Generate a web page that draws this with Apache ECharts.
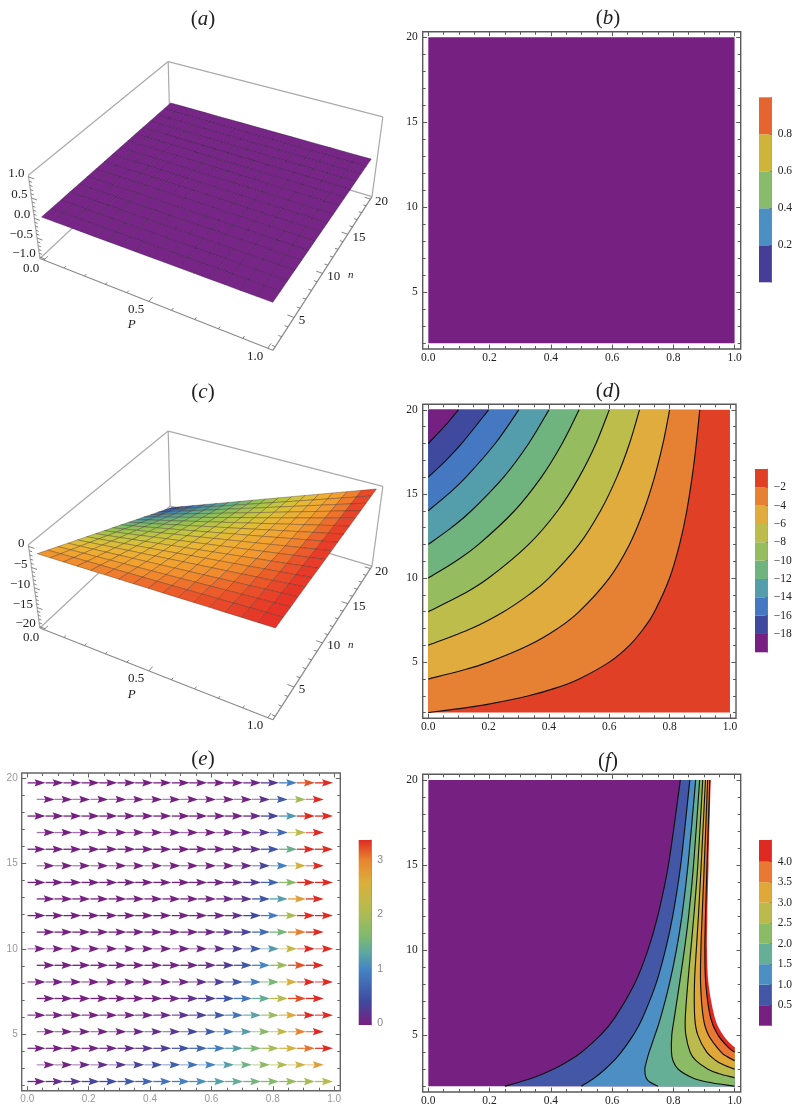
<!DOCTYPE html>
<html><head><meta charset="utf-8">
<style>html,body{margin:0;padding:0;background:#fff}#c{width:796px;height:1107px}</style>
<script src="https://cdn.jsdelivr.net/npm/echarts@6/dist/echarts.min.js"></script>
</head><body><div id="c"></div>
<script>
// ---------- tick values ----------
const xMajor=[0,0.2,0.4,0.6,0.8,1];
const xMinor=[0.05,0.1,0.15,0.25,0.3,0.35,0.45,0.5,0.55,0.65,0.7,0.75,0.85,0.9,0.95];
const yMajor=[5,10,15,20];
const yMinor=[2,3,4,6,7,8,9,11,12,13,14,16,17,18,19];

// ---------- panel (d): contour lines [P, n] ----------
const dLine2=[[0,2],[0.111,2.25],[0.2,2.5],[0.333,3],[0.429,3.5],[0.5,4],[0.6,5],[0.667,6],[0.714,7],[0.75,8],[0.8,10],[0.833,12],[0.857,14],[0.882,17],[0.9,20]];
const dLine4=[[0,4],[0.111,4.5],[0.2,5],[0.333,6],[0.429,7],[0.5,8],[0.6,10],[0.667,12],[0.714,14],[0.75,16],[0.778,18],[0.8,20]];
const dLine6=[[0,6],[0.143,7],[0.25,8],[0.333,9],[0.4,10],[0.5,12],[0.571,14],[0.625,16],[0.667,18],[0.7,20]];
const dLine8=[[0,8],[0.111,9],[0.2,10],[0.333,12],[0.429,14],[0.5,16],[0.556,18],[0.6,20]];
const dLine10=[[0,10],[0.091,11],[0.167,12],[0.286,14],[0.375,16],[0.444,18],[0.5,20]];
const dLine12=[[0,12],[0.077,13],[0.143,14],[0.25,16],[0.333,18],[0.4,20]];
const dLine14=[[0,14],[0.067,15],[0.125,16],[0.222,18],[0.3,20]];
const dLine16=[[0,16],[0.059,17],[0.111,18],[0.2,20]];
const dLine18=[[0,18],[0.053,19],[0.1,20]];
const dBandColors=['#E04026','#E68033','#DFAC3D','#BDBD4C','#96BC60','#6FB37F','#549DAA','#4478C0','#3F4A9F','#762181'];
const dBarEdges=[0,-2,-4,-6,-8,-10,-12,-14,-16,-18,-20];
// ---------- panel (f): contour lines [P, n] ----------
const fLine05=[[0.25,2],[0.342,2.5],[0.408,3],[0.459,3.5],[0.5,4],[0.562,5],[0.608,6],[0.673,8],[0.717,10],[0.749,12],[0.784,15],[0.823,20]];
const fLine10=[[0.5,2],[0.543,2.5],[0.577,3],[0.606,3.5],[0.63,4],[0.669,5],[0.699,6],[0.743,8],[0.774,10],[0.798,12],[0.824,15],[0.854,20]];
const fLine15=[[0.75,2],[0.723,2.25],[0.711,2.5],[0.707,3],[0.713,3.5],[0.721,4],[0.74,5],[0.758,6],[0.787,8],[0.81,10],[0.828,12],[0.848,15],[0.873,20]];
const fLine20=[[1,2],[0.91,2.25],[0.862,2.5],[0.816,3],[0.799,3.5],[0.794,4],[0.795,5],[0.803,6],[0.82,8],[0.836,10],[0.85,12],[0.866,15],[0.886,20]];
const fLine25=[[1,2.5],[0.947,2.75],[0.913,3],[0.874,3.5],[0.855,4],[0.841,5],[0.839,6],[0.847,8],[0.857,10],[0.867,12],[0.88,15],[0.896,20]];
const fLine30=[[1,3],[0.965,3.25],[0.94,3.5],[0.909,4],[0.88,5],[0.87,6],[0.869,8],[0.875,10],[0.882,12],[0.891,15],[0.905,20]];
const fLine35=[[1,3.5],[0.975,3.75],[0.956,4],[0.915,5],[0.898,6],[0.889,8],[0.89,10],[0.894,12],[0.901,15],[0.912,20]];
const fLine40=[[1,4],[0.981,4.25],[0.946,5],[0.922,6],[0.906,8],[0.903,10],[0.905,12],[0.91,15],[0.919,20]];
const fEdge=[[1,4.3],[0.987,4.5],[0.963,5],[0.936,6],[0.915,8],[0.91,10],[0.911,12],[0.915,15],[0.922,20]];
const fBandColors=['#762181','#4357A6','#4B8FC4','#66AF97','#8CBB66','#BBBB4D','#DFA838','#E97832','#DF2A22'];
const fBarEdges=[0,0.5,1,1.5,2,2.5,3,3.5,4,4.53];
// ---------- panel (b) ----------
const bBandColors=['#463E96','#4B8FC3','#88BB6B','#CFB43A','#E5642F'];
const bBarEdges=[0,0.2,0.4,0.6,0.8,1];
const bFill='#762181';
// ---------- panel (e): arrow magnitudes, top row first ----------
const eRowN=[19.75,18.78,17.8,16.83,15.85,14.88,13.9,12.93,11.95,10.98,10,9.03,8.05,7.08,6.1,5.13,4.15,3.18,2.2];
const ePFull=[0.03,0.089,0.147,0.206,0.264,0.323,0.381,0.44,0.5,0.557,0.616,0.674,0.733,0.791,0.85,0.908,0.967];
const ePShort=[0.06,0.118,0.176,0.235,0.294,0.352,0.411,0.47,0.528,0.586,0.645,0.703,0.762,0.82,0.879,0.937];
const eMag=[
[0,0,0,0,0,0,0,0,0,0,0,0.01,0.06,0.24,0.94,3.2,3.4],
[0,0,0,0,0,0,0,0,0,0,0.01,0.04,0.15,0.56,1.9,3.4],
[0,0,0,0,0,0,0,0,0,0,0.01,0.02,0.1,0.35,1.16,3.4,3.4],
[0,0,0,0,0,0,0,0,0,0,0.02,0.06,0.23,0.74,2.2,3.4],
[0,0,0,0,0,0,0,0,0,0,0.01,0.05,0.16,0.49,1.42,3.4,3.4],
[0,0,0,0,0,0,0,0,0,0.01,0.03,0.11,0.34,0.95,2.5,3.4],
[0,0,0,0,0,0,0,0,0,0.01,0.03,0.09,0.25,0.68,1.7,3.4,3.4],
[0,0,0,0,0,0,0,0,0.01,0.02,0.07,0.19,0.5,1.22,2.77,3.4],
[0,0,0,0,0,0,0,0,0.01,0.02,0.06,0.16,0.4,0.92,2,3.4,3.4],
[0,0,0,0,0,0,0,0.01,0.02,0.05,0.14,0.33,0.73,1.52,3.03,3.4],
[0,0,0,0,0,0,0,0.01,0.02,0.05,0.13,0.29,0.61,1.2,2.3,3.4,3.4],
[0,0,0,0,0,0,0.01,0.02,0.05,0.12,0.27,0.53,1.02,1.84,3.2,3.4],
[0,0,0,0,0,0,0.01,0.03,0.06,0.13,0.26,0.5,0.9,1.55,2.56,3.4,3.4],
[0,0,0,0,0,0.01,0.03,0.07,0.15,0.27,0.5,0.83,1.36,2.13,3.23,3.4],
[0,0,0,0,0.01,0.02,0.05,0.09,0.18,0.31,0.52,0.82,1.25,1.85,2.66,3.4,3.4],
[0,0,0,0.01,0.03,0.07,0.13,0.23,0.37,0.57,0.84,1.2,1.67,2.26,3.01,3.4],
[0,0,0.01,0.03,0.06,0.12,0.2,0.31,0.47,0.66,0.9,1.2,1.56,1.99,2.49,3.06,3.4],
[0.01,0.03,0.07,0.14,0.22,0.33,0.46,0.61,0.79,0.99,1.22,1.48,1.76,2.06,2.4,2.76],
[0.03,0.12,0.22,0.33,0.44,0.57,0.69,0.82,0.96,1.09,1.23,1.37,1.52,1.66,1.81,1.96,2.11]
];
const eShaftOpacity=[1,0.6,1,0.65,1,0.6,1,1,1,1,0.5,1,0.7,1,0.8,0.6,0.9,0.5,1];
const eMagStops=[[0,'#762181'],[0.4,'#3F4A9F'],[1,'#4584C5'],[1.3,'#5CA8A0'],[1.6,'#7FBA6F'],[2.1,'#B5BB4E'],[2.6,'#DBAF3C'],[3,'#E8842F'],[3.37,'#DF2A22']];
// ---------- panels (a) and (c): surface heights at the mesh nodes ----------
const surfP=[0,0.0625,0.125,0.1875,0.25,0.3125,0.375,0.4375,0.5,0.5625,0.625,0.6875,0.75,0.8125,0.875,0.9375,1];
const surfN=[2,3.125,4.25,5.375,6.5,7.625,8.75,9.875,11,12.125,13.25,14.375,15.5,16.625,17.75,18.875,20];
const aZeroRow=[0,0,0,0,0,0,0,0,0,0,0,0,0,0,0,0,0];
const aZ=surfN.map(()=>aZeroRow);
const cZ=[
[-2,-1.88,-1.75,-1.63,-1.5,-1.38,-1.25,-1.13,-1,-.88,-.75,-.63,-.5,-.38,-.25,-.13,0],
[-3.13,-2.93,-2.73,-2.54,-2.34,-2.15,-1.95,-1.76,-1.56,-1.37,-1.17,-.98,-.78,-.59,-.39,-.2,0],
[-4.25,-3.98,-3.72,-3.45,-3.19,-2.92,-2.66,-2.39,-2.13,-1.86,-1.59,-1.33,-1.06,-.8,-.53,-.27,0],
[-5.38,-5.04,-4.7,-4.37,-4.03,-3.7,-3.36,-3.02,-2.69,-2.35,-2.02,-1.68,-1.34,-1.01,-.67,-.34,0],
[-6.5,-6.09,-5.69,-5.28,-4.88,-4.47,-4.06,-3.66,-3.25,-2.84,-2.44,-2.03,-1.63,-1.22,-.81,-.41,0],
[-7.63,-7.15,-6.67,-6.2,-5.72,-5.24,-4.77,-4.29,-3.81,-3.34,-2.86,-2.38,-1.91,-1.43,-.95,-.48,0],
[-8.75,-8.2,-7.66,-7.11,-6.56,-6.02,-5.47,-4.92,-4.38,-3.83,-3.28,-2.73,-2.19,-1.64,-1.09,-.55,0],
[-9.88,-9.26,-8.64,-8.02,-7.41,-6.79,-6.17,-5.55,-4.94,-4.32,-3.7,-3.09,-2.47,-1.85,-1.23,-.62,0],
[-11,-10.31,-9.63,-8.94,-8.25,-7.56,-6.88,-6.19,-5.5,-4.81,-4.13,-3.44,-2.75,-2.06,-1.38,-.69,0],
[-12.13,-11.37,-10.61,-9.85,-9.09,-8.34,-7.58,-6.82,-6.06,-5.3,-4.55,-3.79,-3.03,-2.27,-1.52,-.76,0],
[-13.25,-12.42,-11.59,-10.77,-9.94,-9.11,-8.28,-7.45,-6.63,-5.8,-4.97,-4.14,-3.31,-2.48,-1.66,-.83,0],
[-14.38,-13.48,-12.58,-11.68,-10.78,-9.88,-8.98,-8.09,-7.19,-6.29,-5.39,-4.49,-3.59,-2.7,-1.8,-.9,0],
[-15.5,-14.53,-13.56,-12.59,-11.63,-10.66,-9.69,-8.72,-7.75,-6.78,-5.81,-4.84,-3.88,-2.91,-1.94,-.97,0],
[-16.63,-15.59,-14.55,-13.51,-12.47,-11.43,-10.39,-9.35,-8.31,-7.27,-6.23,-5.2,-4.16,-3.12,-2.08,-1.04,0],
[-17.75,-16.64,-15.53,-14.42,-13.31,-12.2,-11.09,-9.98,-8.88,-7.77,-6.66,-5.55,-4.44,-3.33,-2.22,-1.11,0],
[-18.88,-17.7,-16.52,-15.34,-14.16,-12.98,-11.8,-10.62,-9.44,-8.26,-7.08,-5.9,-4.72,-3.54,-2.36,-1.18,0],
[-20,-18.75,-17.5,-16.25,-15,-13.75,-12.5,-11.25,-10,-8.75,-7.5,-6.25,-5,-3.75,-2.5,-1.25,0]
];
const cZStops=[[-20,'#2F2F80'],[-19,'#34479A'],[-17,'#3A70AC'],[-15,'#4493A6'],[-13,'#5DAC88'],[-11,'#86BE5E'],[-9,'#A8C44A'],[-7,'#CCC63C'],[-5,'#E9B735'],[-3,'#F3A02F'],[-2,'#F08A2E'],[-1,'#EC5A2A'],[0,'#E62E28']];
const aZStops=[[-1,'#772688'],[1,'#772688']];
const pTicks3d=[0,0.1,0.2,0.3,0.4,0.5,0.6,0.7,0.8,0.9,1];
const pLabels3d=[0,0.5,1];
const nTicks3d=[2,3,4,5,6,7,8,9,10,11,12,13,14,15,16,17,18,19,20];
const nLabels3d=[5,10,15,20];
const aZTicks=[-1,-0.9,-0.8,-0.7,-0.6,-0.5,-0.4,-0.3,-0.2,-0.1,0,0.1,0.2,0.3,0.4,0.5,0.6,0.7,0.8,0.9,1];
const aZLabels=[-1,-0.5,0,0.5,1];
const cZTicks=[-20,-19,-18,-17,-16,-15,-14,-13,-12,-11,-10,-9,-8,-7,-6,-5,-4,-3,-2,-1,0];
const cZLabels=[-20,-15,-10,-5,0];

// ---------- helpers ----------
const SERIF='"Liberation Serif", serif', SANS='"Liberation Sans", sans-serif';
const grid=[],xAxis=[],yAxis=[],series=[],title=[];
const hex=h=>[parseInt(h.slice(1,3),16),parseInt(h.slice(3,5),16),parseInt(h.slice(5,7),16)];
function ramp(stops,v){
  if(v<=stops[0][0])return stops[0][1];
  for(let i=1;i<stops.length;i++){ if(v<=stops[i][0]){
    const t=(v-stops[i-1][0])/(stops[i][0]-stops[i-1][0]),a=hex(stops[i-1][1]),b=hex(stops[i][1]);
    return 'rgb('+a.map((c,k)=>Math.round(c+(b[k]-c)*t)).join(',')+')';}}
  return stops[stops.length-1][1];
}
function addAxes(kind,pos,ticks,len,color,labelOpt,minv,maxv){
  const arr=kind==='x'?xAxis:yAxis;
  arr.push({type:'value',gridIndex:grid.length-1,position:pos,min:minv,max:maxv,splitLine:{show:false},
    axisLine:{show:false,onZero:false},
    axisTick:{show:true,inside:true,length:len,customValues:ticks,lineStyle:{color:color,width:1}},
    axisLabel:labelOpt||{show:false}});
  return arr.length-1;
}
function panel2d(rect,o){
  grid.push({left:rect[0],top:rect[1],width:rect[2]-rect[0],height:rect[3]-rect[1],show:true,borderColor:o.frame,borderWidth:1.4,backgroundColor:'transparent'});
  const xl={show:true,customValues:xMajor,margin:o.xm,fontFamily:o.font,fontSize:o.size,color:o.text,formatter:v=>v.toFixed(1)};
  const yl={show:true,customValues:yMajor,margin:o.ym,fontFamily:o.font,fontSize:o.size,color:o.text};
  const X0=-0.0183,X1=1.02,Y0=1.66,Y1=20.33;
  const xi=addAxes('x','bottom',xMajor,4.5,o.frame,xl,X0,X1);
  addAxes('x','top',xMajor,4.5,o.frame,null,X0,X1);
  addAxes('x','bottom',xMinor,3,o.frame,null,X0,X1);
  addAxes('x','top',xMinor,3,o.frame,null,X0,X1);
  const yi=addAxes('y','left',yMajor,4.5,o.frame,yl,Y0,Y1);
  addAxes('y','right',yMajor,4.5,o.frame,null,Y0,Y1);
  addAxes('y','left',yMinor,3,o.frame,null,Y0,Y1);
  addAxes('y','right',yMinor,3,o.frame,null,Y0,Y1);
  return {xAxisIndex:xi,yAxisIndex:yi};
}
function splineD(pts){
  let d='';
  for(let i=0;i<pts.length-1;i++){
    const p0=pts[Math.max(i-1,0)],p1=pts[i],p2=pts[i+1],p3=pts[Math.min(i+2,pts.length-1)];
    d+=' C'+(p1[0]+(p2[0]-p0[0])/6)+' '+(p1[1]+(p2[1]-p0[1])/6)+' '+(p2[0]-(p3[0]-p1[0])/6)+' '+(p2[1]-(p3[1]-p1[1])/6)+' '+p2[0]+' '+p2[1];
  }
  return d;
}
function regionSeries(ax,regions){
  series.push(Object.assign({type:'custom',coordinateSystem:'cartesian2d',silent:true,animation:false,clip:false,
    data:regions.map((r,i)=>[i,0]),
    renderItem(params,api){
      const r=regions[api.value(0)];
      const pts=r.curve.map(p=>api.coord(p));
      let d='M'+pts[0][0]+' '+pts[0][1]+splineD(pts);
      r.close.forEach(p=>{const c=api.coord(p);d+=' L'+c[0]+' '+c[1];});
      return {type:'path',shape:{pathData:d+' Z'},style:{fill:r.color,stroke:null}};
    }},ax));
}
function lineSeries(ax,lines){
  series.push(Object.assign({type:'custom',coordinateSystem:'cartesian2d',silent:true,animation:false,clip:false,
    data:lines.map((r,i)=>[i,0]),
    renderItem(params,api){
      const pts=lines[api.value(0)].map(p=>api.coord(p));
      return {type:'path',shape:{pathData:'M'+pts[0][0]+' '+pts[0][1]+splineD(pts)},style:{fill:'none',stroke:'#111',lineWidth:1.15}};
    }},ax));
}
function colorbar(rect,edges,colors,labels,o){
  grid.push({left:rect[0],top:rect[1],width:rect[2]-rect[0],height:rect[3]-rect[1],show:false});
  const lo=Math.min(edges[0],edges[edges.length-1]),hi=Math.max(edges[0],edges[edges.length-1]);
  xAxis.push({type:'value',gridIndex:grid.length-1,min:0,max:1,show:false});
  yAxis.push({type:'value',gridIndex:grid.length-1,position:'right',min:lo,max:hi,splitLine:{show:false},
    axisLine:{show:true,onZero:false,lineStyle:{color:'rgba(70,60,70,.55)',width:1}},
    axisTick:{show:true,inside:true,length:2.5,customValues:labels,lineStyle:{color:'#444',width:1}},
    axisLabel:{show:true,customValues:labels,margin:6,fontFamily:o.font,fontSize:o.size,color:o.text,formatter:o.fmt}});
  const xi=xAxis.length-1,yi=yAxis.length-1;
  series.push({type:'custom',coordinateSystem:'cartesian2d',xAxisIndex:xi,yAxisIndex:yi,silent:true,animation:false,
    data:colors.map((c,i)=>[edges[i],edges[i+1],i]),
    renderItem(params,api){
      const a=api.coord([0,api.value(0)]),b=api.coord([1,api.value(1)]),idx=api.value(2);
      return {type:'rect',shape:{x:a[0],y:Math.min(a[1],b[1]),width:b[0]-a[0],height:Math.abs(a[1]-b[1])},
        style:{fill:o.gradient||colors[idx]}};
    }});
}
// --- 3D camera: a projective map fitted to where the box and surface anchors land (3x page scale) ---
const camAnchors=[
 [0,0,0,122,778],[1,0,0,820,1050],[1,1,0,1115,592],
 [0,0,1,82,525],[1,1,1,1148,348],[0,1,1,507,187],
 [0.0192,0.0192,0.5,125,652],[0.9808,0.0192,0.5,818,908],[0.9808,0.9808,0.5,1115,478],[0.0192,0.9808,0.5,512,310],
 [0.0192,0.0192,0.885,112,551.5],[0.9808,0.0192,0.981,825,773.5],[0.9808,0.9808,0.981,1130,359.5],[0.0192,0.9808,0.019,512,409.5]
];
function fitCamera(A){
  const n=11,M=[...Array(n)].map(()=>Array(n+1).fill(0));
  const add=(r,b)=>{for(let i=0;i<n;i++){for(let j=0;j<n;j++)M[i][j]+=r[i]*r[j];M[i][n]+=r[i]*b;}};
  A.forEach(([u,v,w,x,y])=>{
    add([u,v,w,1,0,0,0,0,-x*u,-x*v,-x*w],x);
    add([0,0,0,0,u,v,w,1,-y*u,-y*v,-y*w],y);
  });
  for(let c=0;c<n;c++){
    let p=c;for(let r=c+1;r<n;r++)if(Math.abs(M[r][c])>Math.abs(M[p][c]))p=r;
    [M[c],M[p]]=[M[p],M[c]];
    for(let r=0;r<n;r++)if(r!==c){const f=M[r][c]/M[c][c];for(let k=c;k<=n;k++)M[r][k]-=f*M[c][k];}
  }
  const s=M.map((r,i)=>r[n]/r[i]);
  return (u,v,w)=>{const d=s[8]*u+s[9]*v+s[10]*w+1;return [(s[0]*u+s[1]*v+s[2]*w+s[3])/d,(s[4]*u+s[5]*v+s[6]*w+s[7])/d];};
}
const camera=fitCamera(camAnchors);
const boxEdges=[[0,0,1,0,1,1],[0,1,1,1,1,1],[0,1,1,0,1,0],[1,1,1,1,1,0],[0,0,1,0,0,0],[0,0,0,1,0,0],[1,0,0,1,1,0],[0,0,0,0,1,0],[1,1,0,0,1,0]];
const boxEdgeColors=['#aaa','#aaa','#aaa','#aaa','#aaa','#8a8a8a','#8a8a8a','#aaa','#aaa'];

function panel3d(top,Z,stops,zRange,zTicks,zLabels,zFmt,meshColor){
  grid.push({left:0,top:top,width:400,height:370,show:false});
  xAxis.push({type:'value',gridIndex:grid.length-1,min:0,max:1200,show:false});
  yAxis.push({type:'value',gridIndex:grid.length-1,min:0,max:1110,inverse:true,show:false});
  const ax={xAxisIndex:xAxis.length-1,yAxisIndex:yAxis.length-1,type:'custom',coordinateSystem:'cartesian2d',silent:true,animation:false,clip:false};
  const U=p=>(p+0.02)/1.04,V=n=>(n-1.64)/18.72,W=z=>(z-zRange[0])/(zRange[1]-zRange[0]);
  const P=(api,p,n,z)=>api.coord(camera(U(p),V(n),W(z)));
  // box edges
  series.push(Object.assign({},ax,{data:boxEdges.map((e,i)=>[i,0]),renderItem(par,api){
    const e=boxEdges[api.value(0)],a=api.coord(camera(e[0],e[1],e[2])),b=api.coord(camera(e[3],e[4],e[5]));
    return {type:'line',shape:{x1:a[0],y1:a[1],x2:b[0],y2:b[1]},style:{stroke:boxEdgeColors[api.value(0)],lineWidth:1.2}};
  }}));
  // tick marks
  const tickItems=[];
  pTicks3d.forEach(p=>tickItems.push([0,p,pLabels3d.includes(p)?1:0]));
  nTicks3d.forEach(n=>tickItems.push([1,n,nLabels3d.includes(n)?1:0]));
  zTicks.forEach(z=>tickItems.push([2,z,zLabels.includes(z)?1:0]));
  series.push(Object.assign({},ax,{data:tickItems,renderItem(par,api){
    const k=api.value(0),t=api.value(1),L=api.value(2)?0.026:0.013;
    let a,b;
    if(k===0){a=camera(U(t),0,0);b=camera(U(t),L,0);}
    else if(k===1){a=camera(1,V(t),0);b=camera(1-L,V(t),0);}
    else{a=camera(0,0,W(t));b=camera(L,0,W(t));}
    a=api.coord(a);b=api.coord(b);
    return {type:'line',shape:{x1:a[0],y1:a[1],x2:b[0],y2:b[1]},style:{stroke:'#777',lineWidth:0.9}};
  }}));
  // surface
  const cells=[];
  for(let j=surfN.length-2;j>=0;j--)for(let i=0;i<surfP.length-1;i++)cells.push([i,j,0]);
  series.push(Object.assign({},ax,{data:cells,renderItem(par,api){
    const i=api.value(0),j=api.value(1);
    const z=[Z[j][i],Z[j][i+1],Z[j+1][i+1],Z[j+1][i]];
    const pts=[P(api,surfP[i],surfN[j],z[0]),P(api,surfP[i+1],surfN[j],z[1]),P(api,surfP[i+1],surfN[j+1],z[2]),P(api,surfP[i],surfN[j+1],z[3])];
    return {type:'polygon',shape:{points:pts},style:{fill:ramp(stops,(z[0]+z[1]+z[2]+z[3])/4),stroke:meshColor,lineWidth:0.8}};
  }}));
  // tick labels
  const lab=[];
  pLabels3d.forEach(p=>lab.push([0,p]));
  nLabels3d.forEach(n=>lab.push([1,n]));
  zLabels.forEach(z=>lab.push([2,z]));
  series.push(Object.assign({},ax,{data:lab,renderItem(par,api){
    const k=api.value(0),t=api.value(1);let a,txt,al;
    if(k===0){a=camera(U(t),0,0);a=[a[0]-38,a[1]+24];txt=t.toFixed(1);al='center';}
    else if(k===1){a=camera(1,V(t),0);a=[a[0]+14,a[1]+9];txt=String(t);al='left';}
    else{a=camera(0,0,W(t));a=[a[0]-12,a[1]-10];txt=zFmt(t);al='right';}
    a=api.coord(a);
    return {type:'text',x:a[0],y:a[1],style:{text:txt,fill:'#222',font:'13px '+SERIF,textAlign:al,textVerticalAlign:'middle'}};
  }}));
  // axis names
  const names=[['P',395,975,13],['n',1052,826,11]];
  series.push(Object.assign({},ax,{data:names.map(n=>[n[1],n[2]]),renderItem(par,api){
    const a=api.coord([api.value(0),api.value(1)]),nm=names[par.dataIndex];
    return {type:'text',x:a[0],y:a[1],style:{text:nm[0],fill:'#222',font:'italic '+nm[3]+'px '+SERIF,textAlign:'center',textVerticalAlign:'middle'}};
  }}));
}
const minus=t=>t<0?'\u2212'+Math.abs(t):String(t);

// ---------- titles ----------
[['a',198,17],['b',603,16],['c',198,390],['d',603,389],['e',198,757],['f',603,759]].forEach(t=>{
  title.push({text:'{p|(}{i|'+t[0]+'}{p|)}',left:t[1],top:t[2]-13,textAlign:'center',
    textStyle:{fontWeight:'normal',rich:{p:{fontFamily:SERIF,fontSize:21,fontWeight:'normal',color:'#222'},i:{fontFamily:SERIF,fontSize:21,fontStyle:'italic',fontWeight:'normal',color:'#222'}}}});
});

// ---------- (a), (c) ----------
panel3d(0,aZ,aZStops,[-1.04,1.04],aZTicks,aZLabels,t=>minus(Number(t.toFixed(1))).replace(/^(\u2212?\d)$/,'$1.0'),'rgba(55,20,65,.5)');
panel3d(369.5,cZ,cZStops,[-20.4,0.4],cZTicks,cZLabels,minus,'rgba(70,45,35,.45)');

// ---------- (b) ----------
const serifStyle={frame:'#5a5a5a',font:SERIF,size:11.5,text:'#222',xm:3,ym:5};
const axB=panel2d([422.7,31.7,740.7,349],serifStyle);
regionSeries(axB,[{curve:[[0,2],[1,2]],close:[[1,20],[0,20]],color:bFill}]);
colorbar([759,97.3,771.7,282.3],bBarEdges,bBandColors,[0.2,0.4,0.6,0.8],{font:SERIF,size:11.5,text:'#222',fmt:v=>v.toFixed(1)});

// ---------- (d) ----------
const axD=panel2d([422.7,404.3,736,718.3],serifStyle);
const dLines=[dLine2,dLine4,dLine6,dLine8,dLine10,dLine12,dLine14,dLine16,dLine18];
regionSeries(axD,[{curve:[[0,2],[1,2]],close:[[1,20],[0,20]],color:dBandColors[0]}].concat(
  dLines.map((l,i)=>({curve:l,close:[[0,20]],color:dBandColors[i+1]}))));
lineSeries(axD,dLines);
colorbar([755,469,767.7,652.3],dBarEdges.slice().reverse(),dBandColors.slice().reverse(),[-18,-16,-14,-12,-10,-8,-6,-4,-2],{font:SERIF,size:11.5,text:'#222',fmt:minus});

// ---------- (e) ----------
const axE=panel2d([21.7,773,340.3,1090.7],{frame:'#666',font:SANS,size:10,text:'#999',xm:4,ym:4});
const arrows=[];
eRowN.forEach((n,r)=>{const ps=r%2?ePShort:ePFull;eMag[r].forEach((m,c)=>arrows.push([ps[c],n,m,eShaftOpacity[r]]));});
series.push(Object.assign({type:'custom',coordinateSystem:'cartesian2d',silent:true,animation:false,clip:false,data:arrows,
  renderItem(par,api){
    const c=api.coord([api.value(0),api.value(1)]),col=ramp(eMagStops,api.value(2)),x=c[0],y=c[1];
    return {type:'group',children:[
      {type:'line',shape:{x1:x-9,y1:y,x2:x+1,y2:y},style:{stroke:col,lineWidth:1.3,opacity:api.value(3)}},
      {type:'polygon',shape:{points:[[x-2,y-3.7],[x+9,y],[x-2,y+3.7],[x-0.2,y]]},style:{fill:col}}]};
  }},axE));
colorbar([358.7,840,371.3,1025],[-0.03,3.37],['#000'],[0,1,2,3],{font:SANS,size:10.5,text:'#888',fmt:v=>String(v),
  gradient:{type:'linear',x:0,y:1,x2:0,y2:0,colorStops:eMagStops.map(s=>({offset:(s[0]+0.03)/3.4,color:s[1]}))}});

// ---------- (f) ----------
const axF=panel2d([422.7,774.3,740.7,1092.3],serifStyle);
const fLines=[fLine05,fLine10,fLine15,fLine20,fLine25,fLine30,fLine35,fLine40];
const fOpen=[[[1,20],[1,2]],[[1,20],[1,2]],[[1,20],[1,2]],[[1,20]],[[1,20]],[[1,20]],[[1,20]],[[1,20]]];
regionSeries(axF,[{curve:[[0,2],[1,2]],close:[[1,20],[0,20]],color:fBandColors[0]}].concat(
  fLines.map((l,i)=>({curve:l,close:fOpen[i],color:fBandColors[i+1]})),
  [{curve:fEdge,close:[[0.922,20.03],[1.006,20.03],[1.006,4.3]],color:'#fff'}]));
lineSeries(axF,fLines);
colorbar([759,840,771.7,1025.7],fBarEdges,fBandColors,[0.5,1,1.5,2,2.5,3,3.5,4],{font:SERIF,size:11.5,text:'#222',fmt:v=>v.toFixed(1)});

const chart=echarts.init(document.getElementById('c'),null,{renderer:'canvas',width:796,height:1107});
chart.setOption({animation:false,backgroundColor:'#fff',title,grid,xAxis,yAxis,series});
</script></body></html>
